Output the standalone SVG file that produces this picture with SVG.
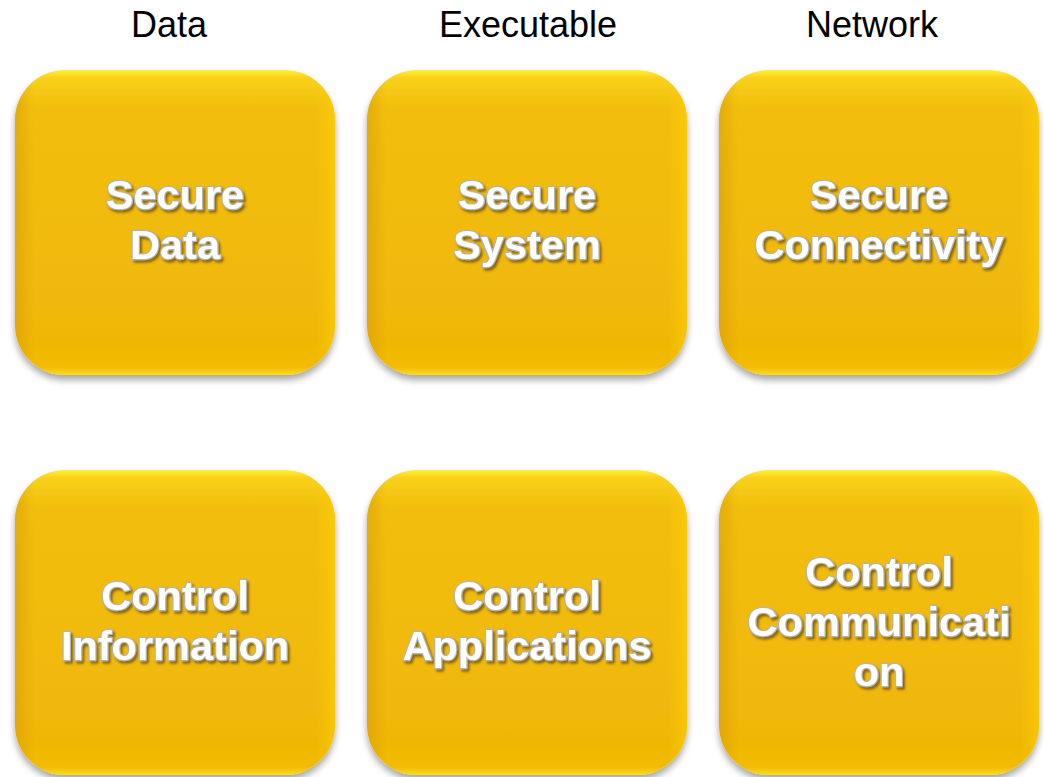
<svg xmlns="http://www.w3.org/2000/svg" width="1044" height="777" viewBox="0 0 1044 777">
<defs>
<linearGradient id="fillV" x1="0" y1="0" x2="0" y2="1">
<stop offset="0" stop-color="#FFF036"/>
<stop offset="0.025" stop-color="#F9D21A"/>
<stop offset="0.12" stop-color="#F2BE0C"/>
<stop offset="0.9" stop-color="#F0B706"/>
<stop offset="0.975" stop-color="#F2BC06"/>
<stop offset="1" stop-color="#FADC20"/>
</linearGradient>
<linearGradient id="sideH" x1="0" y1="0" x2="1" y2="0">
<stop offset="0" stop-color="#C88A00" stop-opacity="0.35"/>
<stop offset="0.06" stop-color="#C88A00" stop-opacity="0"/>
<stop offset="0.94" stop-color="#FFD000" stop-opacity="0"/>
<stop offset="1" stop-color="#FFD800" stop-opacity="0.5"/>
</linearGradient>
<filter id="shadow" x="-10%" y="-10%" width="120%" height="125%">
<feDropShadow dx="0" dy="5" stdDeviation="3.5" flood-color="#000" flood-opacity="0.35"/>
</filter>
<filter id="tshadow" x="-10%" y="-20%" width="120%" height="150%">
<feDropShadow dx="2" dy="2.5" stdDeviation="1.2" flood-color="#4a3500" flood-opacity="0.6"/>
</filter>
</defs>
<style>
.box{fill:url(#fillV);}
.side{fill:url(#sideH);}
.lbl{font-family:"Liberation Sans",Arial,sans-serif;font-weight:bold;font-size:41.5px;fill:#FFFFFF;stroke:#B4B4B4;stroke-width:2.4px;paint-order:stroke;stroke-linejoin:round;text-anchor:middle;}
.hdr{font-family:"Liberation Sans",Arial,sans-serif;font-size:36px;fill:#000;text-anchor:middle;}
</style>
<g id="headers">
<text class="hdr" x="169" y="37">Data</text>
<text class="hdr" x="528" y="37">Executable</text>
<text class="hdr" x="872" y="37">Network</text>
</g>
<g id="connectors"/>
<g id="node-secure-data">
<g filter="url(#shadow)"><rect class="box" x="15" y="70" width="320" height="305" rx="50"/></g>
<rect class="side" x="15" y="70" width="320" height="305" rx="50"/>
<g filter="url(#tshadow)"><text class="lbl" x="175" y="209">Secure</text><text class="lbl" x="175" y="259">Data</text></g>
</g>
<g id="node-secure-system">
<g filter="url(#shadow)"><rect class="box" x="367" y="70" width="320" height="305" rx="50"/></g>
<rect class="side" x="367" y="70" width="320" height="305" rx="50"/>
<g filter="url(#tshadow)"><text class="lbl" x="527" y="209">Secure</text><text class="lbl" x="527" y="259">System</text></g>
</g>
<g id="node-secure-connectivity">
<g filter="url(#shadow)"><rect class="box" x="719" y="70" width="320" height="305" rx="50"/></g>
<rect class="side" x="719" y="70" width="320" height="305" rx="50"/>
<g filter="url(#tshadow)"><text class="lbl" x="879" y="209">Secure</text><text class="lbl" x="879" y="259">Connectivity</text></g>
</g>
<g id="node-control-information">
<g filter="url(#shadow)"><rect class="box" x="15" y="470" width="320" height="305" rx="50"/></g>
<rect class="side" x="15" y="470" width="320" height="305" rx="50"/>
<g filter="url(#tshadow)"><text class="lbl" x="175" y="610">Control</text><text class="lbl" x="175" y="660">Information</text></g>
</g>
<g id="node-control-applications">
<g filter="url(#shadow)"><rect class="box" x="367" y="470" width="320" height="305" rx="50"/></g>
<rect class="side" x="367" y="470" width="320" height="305" rx="50"/>
<g filter="url(#tshadow)"><text class="lbl" x="527" y="610">Control</text><text class="lbl" x="527" y="660">Applications</text></g>
</g>
<g id="node-control-communication">
<g filter="url(#shadow)"><rect class="box" x="719" y="470" width="320" height="305" rx="50"/></g>
<rect class="side" x="719" y="470" width="320" height="305" rx="50"/>
<g filter="url(#tshadow)"><text class="lbl" x="879" y="586">Control</text><text class="lbl" x="879" y="636">Communicati</text><text class="lbl" x="879" y="686">on</text></g>
</g>
</svg>
